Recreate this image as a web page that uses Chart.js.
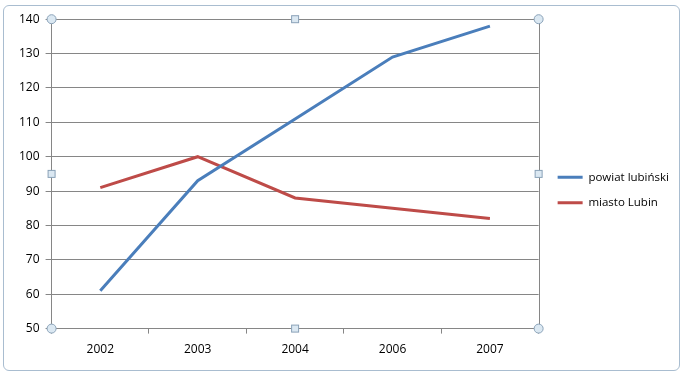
<!DOCTYPE html>
<html>
<head>
<meta charset="utf-8">
<script src="https://cdn.jsdelivr.net/npm/chart.js@4/dist/chart.umd.min.js"></script>
<style>
  html, body { margin: 0; padding: 0; background: #fff; }
  #wrap {
    position: absolute; left: 3px; top: 5px; width: 675px; height: 364px;
    border: 1px solid #a9bdd0; border-radius: 6px; background: #fff;
  }
  #myChart { position: absolute; left: 0; top: 0; }
</style>
</head>
<body>
<div id="wrap"><canvas id="myChart" width="675" height="364"></canvas></div>
<script>
var years = ["2002", "2003", "2004", "2006", "2007"];
var powiatValues = [61, 93, 111, 129, 138];
var miastoValues = [91, 100, 88, 85, 82];
var seriesNames = ["powiat lubiński", "miasto Lubin"];
var lineColors = ["#4a7ebb", "#be4b48"];

// selection frame + handles around the plot area
var plotFrame = {
  id: "plotFrame",
  afterLayout: function (chart) {
    // push the legend a bit further away from the plot
    chart.legend.left += 5;
    chart.legend.right += 5;
  },
  afterDraw: function (chart) {
    var a = chart.chartArea, c = chart.ctx;
    c.save();
    c.strokeStyle = "#868686";
    c.lineWidth = 1;
    c.beginPath();
    c.moveTo(Math.round(a.right) + 0.5, a.top);
    c.lineTo(Math.round(a.right) + 0.5, a.bottom);
    c.stroke();
    c.fillStyle = "#dbe8f2";
    c.strokeStyle = "#8aa2b8";
    var cx = (a.left + a.right) / 2, cy = (a.top + a.bottom) / 2;
    [[a.left, a.top], [a.right, a.top], [a.left, a.bottom], [a.right, a.bottom]].forEach(function (p) {
      c.beginPath();
      c.arc(p[0], p[1], 4.5, 0, Math.PI * 2);
      c.fill(); c.stroke();
    });
    [[cx, a.top], [cx, a.bottom], [a.left, cy], [a.right, cy]].forEach(function (p) {
      c.fillRect(p[0] - 3.5, p[1] - 3.5, 7, 7);
      c.strokeRect(p[0] - 3.5, p[1] - 3.5, 7, 7);
    });
    c.restore();
  }
};

Chart.defaults.font.family = "'Open Sans', 'DejaVu Sans', sans-serif";
Chart.defaults.font.size = 12;
Chart.defaults.color = "#000";

new Chart("myChart", {
  type: "line",
  data: {
    labels: years,
    datasets: [{
      label: seriesNames[0],
      data: powiatValues,
      borderColor: lineColors[0],
      backgroundColor: lineColors[0],
      borderWidth: 3,
      pointRadius: 0,
      tension: 0
    }, {
      label: seriesNames[1],
      data: miastoValues,
      borderColor: lineColors[1],
      backgroundColor: lineColors[1],
      borderWidth: 3,
      pointRadius: 0,
      tension: 0
    }]
  },
  options: {
    responsive: false,
    animation: false,
    layout: { padding: { left: 9, top: 8, right: 5, bottom: 4 } },
    plugins: {
      legend: {
        position: "right",
        labels: {
          usePointStyle: true,
          pointStyle: "line",
          pointStyleWidth: 25,
          boxWidth: 25,
          padding: 14,
          color: "#000",
          font: { size: 11.5 }
        }
      },
      tooltip: { enabled: false }
    },
    scales: {
      x: {
        offset: true,
        grid: {
          offset: true,
          drawOnChartArea: false,
          drawTicks: true,
          tickLength: 5,
          color: "#868686"
        },
        border: { color: "#868686" },
        ticks: { padding: 9 }
      },
      y: {
        min: 50,
        max: 140,
        ticks: { stepSize: 10, padding: 6 },
        grid: { color: "#868686", tickLength: 6 },
        border: { color: "#868686" }
      }
    }
  },
  plugins: [plotFrame]
});
</script>
</body>
</html>
